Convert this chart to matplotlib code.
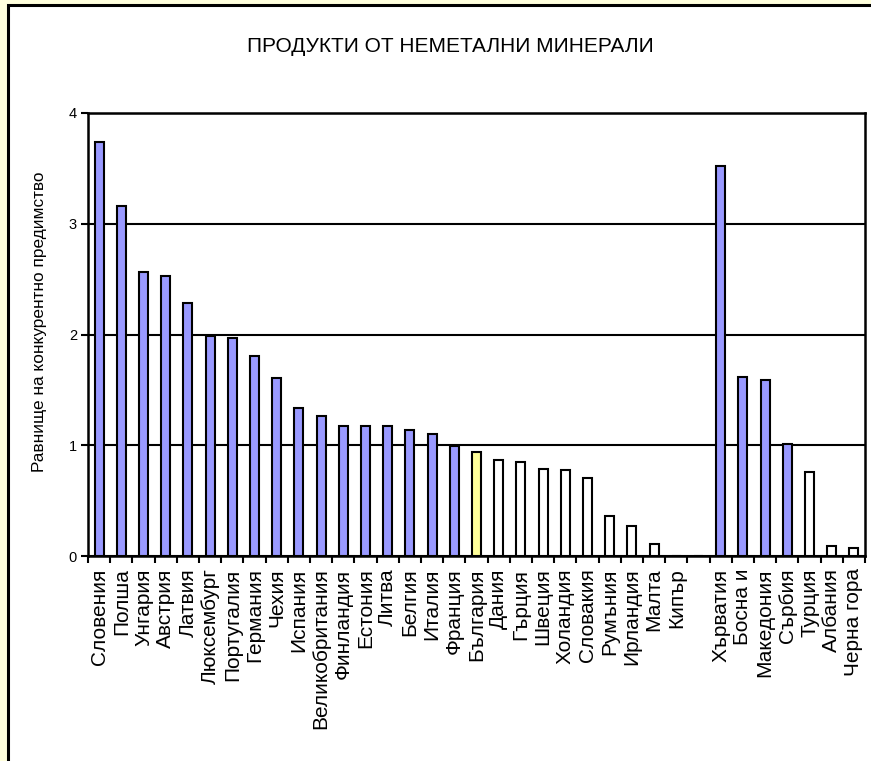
import numpy as np
import matplotlib.pyplot as plt
from matplotlib.patches import Rectangle

plt.rcParams['font.family'] = ['Liberation Sans', 'DejaVu Sans']

countries = ['Словения', 'Полша', 'Унгария', 'Австрия', 'Латвия', 'Люксембург',
             'Португалия', 'Германия', 'Чехия', 'Испания', 'Великобритания',
             'Финландия', 'Естония', 'Литва', 'Белгия', 'Италия', 'Франция',
             'България', 'Дания', 'Гърция', 'Швеция', 'Холандия', 'Словакия',
             'Румъния', 'Ирландия', 'Малта', 'Кипър', '',
             'Хърватия', 'Босна и', 'Македония', 'Сърбия', 'Турция', 'Албания',
             'Черна гора']
values = [3.74, 3.16, 2.56, 2.53, 2.28, 1.99,
          1.97, 1.81, 1.61, 1.34, 1.26,
          1.17, 1.17, 1.17, 1.14, 1.10, 0.99,
          0.94, 0.87, 0.85, 0.79, 0.78, 0.70,
          0.36, 0.27, 0.11, 0.0, 0.0,
          3.52, 1.62, 1.59, 1.01, 0.76, 0.09,
          0.075]

blue = '#9999FF'
yellow = '#FFFF99'
white = '#FFFFFF'
colors = [blue] * 17 + [yellow] + [white] * 10 + [blue] * 4 + [white] * 3

fig = plt.figure(figsize=(8.71, 7.61), dpi=100, facecolor='#FFFFDD')
fig.patches.append(Rectangle((8 / 871, -0.01), 1.0, (761 - 5) / 761 + 0.01,
                             transform=fig.transFigure, facecolor='white',
                             edgecolor='black', linewidth=2.2, zorder=-10))

ax = fig.add_axes([88 / 871, (761 - 556) / 761, (865 - 88) / 871, (556 - 113) / 761])
ax.set_facecolor('white')
x = np.arange(len(countries))
ax.bar(x, values, width=0.4, color=colors, edgecolor='black', linewidth=1.5, zorder=3)

ax.set_xlim(-0.5, len(countries) - 0.5)
ax.set_ylim(0, 4)
ax.set_yticks([0, 1, 2, 3, 4])
ax.yaxis.grid(True, color='black', linewidth=1.5, zorder=1)
ax.set_axisbelow(True)
ax.set_xticks(x)
ax.set_xticklabels(countries, rotation=90, fontsize=15)
ax.set_xticks(np.arange(-0.5, len(countries)), minor=True)
ax.tick_params(axis='x', which='major', length=0, pad=9)
ax.tick_params(axis='x', which='minor', length=5, width=1.5, direction='out')
ax.tick_params(axis='y', length=5, width=1.5, direction='out', labelsize=10.5, pad=3)
for s in ax.spines.values():
    s.set_linewidth(1.8)
ax.set_ylabel('Равнище на конкурентно предимство', fontsize=12.4)
ax.yaxis.set_label_coords(-0.053, 0.528)

fig.text(450 / 871, 1 - 47 / 761, 'ПРОДУКТИ ОТ НЕМЕТАЛНИ МИНЕРАЛИ', ha='center',
         va='center', fontsize=15)

fig.savefig('out.png', dpi=100, facecolor=fig.get_facecolor())
